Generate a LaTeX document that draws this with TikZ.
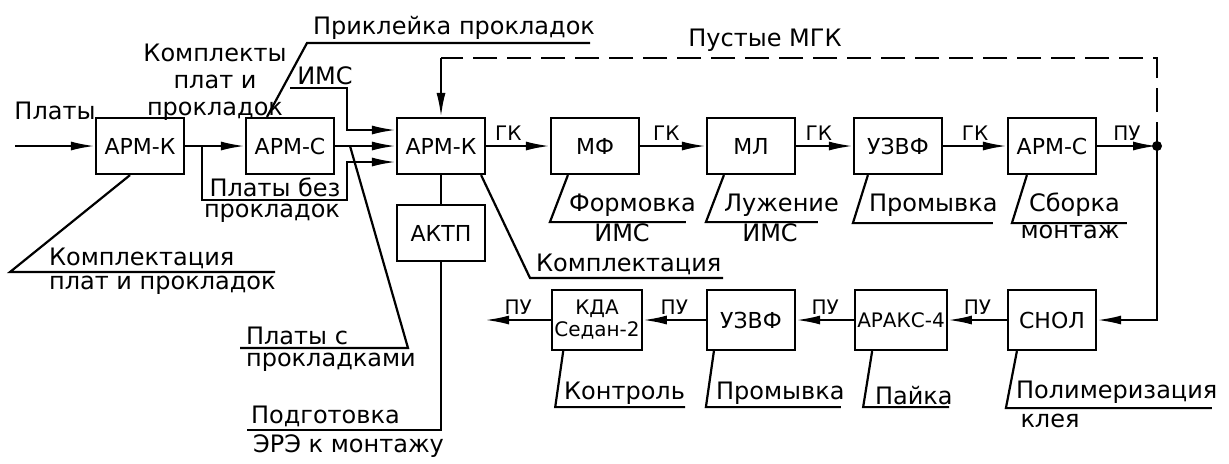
\documentclass[tikz,border=0pt]{standalone}
\usepackage{fontspec}
\setmainfont{DejaVu Sans}
\usepackage{tikz}
\usetikzlibrary{arrows.meta,calc,positioning}

\begin{document}
\begin{tikzpicture}[x=0.5pt,y=-0.5pt,line width=1.1pt,>={Latex[length=12pt,width=4.5pt]},
  blk/.style={draw,minimum width=44pt,minimum height=28pt,inner sep=1pt,align=center,font=\fontsize{11}{12}\selectfont},
  txt/.style={inner sep=1pt,font=\fontsize{12}{13.5}\selectfont},
  tag/.style={inner sep=2pt,font=\fontsize{10}{11}\selectfont}]
  \useasboundingbox (0,0) rectangle (1229,463);

  % upper row
  \node[blk] (armk1) at (140,146) {АРМ-К};
  \node[blk] (armc1) at (290,146) {АРМ-С};
  \node[blk] (armk2) at (441,146) {АРМ-К};
  \node[blk] (mf) at (595,146) {МФ};
  \node[blk] (ml) at (751,146) {МЛ};
  \node[blk] (uzvf1) at (898,146) {УЗВФ};
  \node[blk] (armc2) at (1052,146) {АРМ-С};
  \node[blk] (aktp) at (441,233) {АКТП};
  % lower row
  \node[blk,minimum height=30pt] (snol) at (1052,320) {СНОЛ};
  \node[blk,minimum height=30pt,font=\fontsize{10}{11}\selectfont] (araks) at (901,320) {АРАКС-4};
  \node[blk,minimum height=30pt] (uzvf2) at (751,320) {УЗВФ};
  \node[blk,minimum height=30pt,font=\fontsize{10}{11}\selectfont] (kda) at (597,320) {КДА\\Седан-2};

  \coordinate (inp) at (15,146);
  \coordinate (br) at (202,146);
  \coordinate (brd) at (202,200);
  \coordinate (brr) at (347,200);
  \coordinate (ims) at (290,88);
  \coordinate (imsr) at (347,88);
  \coordinate (pst) at (350,146);
  \coordinate (psb) at (408,348);
  \coordinate (psl) at (240,348);
  \coordinate (dl) at (441,58);
  \coordinate (dr) at (1157,58);
  \coordinate (pdot) at (1157,146);
  \coordinate (podl) at (247,430);
  \coordinate (out) at (485,320);

  % flow
  \draw[->] (inp) -- (armk1);
  \draw[->] (armk1) -- (armc1);
  \draw[->] (br) -- (brd) -- (brr) |- ($(armk2.west)+(0,16)$);
  \draw[->] (armc1) -- (armk2);
  \draw[->] (ims) -- (imsr) |- ($(armk2.west)+(0,-16)$);
  \draw (pst) -- (psb) -- (psl);
  \draw[dash pattern=on 12pt off 5pt] (pdot) -- (dr) -- (dl);
  \draw[->] (dl) -- (armk2);
  \draw[->] (armk2) -- node[tag,above,pos=0.35] {ГК} (mf);
  \draw[->] (mf) -- node[tag,above,pos=0.4] {ГК} (ml);
  \draw[->] (ml) -- node[tag,above,pos=0.4] {ГК} (uzvf1);
  \draw[->] (uzvf1) -- node[tag,above,pos=0.5] {ГК} (armc2);
  \draw[->] (armc2) -- node[tag,above,pos=0.5] {ПУ} (pdot);
  \fill (pdot) circle (2.5pt);
  \draw[->] (pdot) |- (snol.east);
  \draw[->] (snol) -- node[tag,above,pos=0.5] {ПУ} (araks);
  \draw[->] (araks) -- node[tag,above,pos=0.5] {ПУ} (uzvf2);
  \draw[->] (uzvf2) -- node[tag,above,pos=0.5] {ПУ} (kda);
  \draw[->] (kda) -- node[tag,above,pos=0.5] {ПУ} (out);
  \draw (armk2) -- (aktp);
  \draw (aktp) |- (podl);

  % leaders
  \draw ($(armk1.south)+(-10,0)$) -- (10,272) -- (275,272);
  \draw ($(armc1.north)+(-23,0)$) -- (307,43) -- (590,43);
  \draw ($(armk2.south east)+(-5,0)$) -- (530,278) -- (723,278);
  \draw ($(mf.south west)+(18,0)$) -- ++(-18,47) -- ++(136,0);
  \draw ($(ml.south west)+(18,0)$) -- ++(-18,47) -- ++(112,0);
  \draw ($(uzvf1.south west)+(15,0)$) -- ++(-15,48) -- ++(140,0);
  \draw ($(armc2.south west)+(20,0)$) -- ++(-15,48) -- ++(115,0);
  \draw ($(kda.south west)+(12,0)$) -- ++(-8,56) -- ++(130,0);
  \draw ($(uzvf2.south west)+(8,0)$) -- ++(-8,56) -- ++(135,0);
  \draw ($(araks.south west)+(18,0)$) -- ++(-9,56) -- ++(86,0);
  \draw ($(snol.south west)+(10,0)$) -- ++(-11,57) -- ++(206,0);

  % texts
  \node[txt] (platy) at (55,111) {Платы};
  \node[txt,align=center] (kompl) at (215,82) {Комплекты\\плат и\\прокладок};
  \node[txt,anchor=south west] (prikl) at (310,43) {Приклейка прокладок};
  \node[txt,anchor=south] (ims0) at (325,88) {ИМС};
  \node[txt] (pust) at (765,40) {Пустые МГК};
  \node[txt,anchor=south] (bez1) at (275,200) {Платы без};
  \node[txt,anchor=north] (bez2) at (272,201) {прокладок};
  \node[txt,anchor=south west] (kp1) at (46,272) {Комплектация};
  \node[txt,anchor=north west] (kp2) at (46,273) {плат и прокладок};
  \node[txt,anchor=south west] (kims) at (533,278) {Комплектация};
  \node[txt,anchor=south west] (form) at (566,220) {Формовка};
  \node[txt,anchor=north] (form2) at (622,221) {ИМС};
  \node[txt,anchor=south west] (luzh) at (721,220) {Лужение};
  \node[txt,anchor=north] (luzh2) at (770,221) {ИМС};
  \node[txt,anchor=south west] (prom1) at (866,220) {Промывка};
  \node[txt,anchor=south west] (sbor) at (1026,220) {Сборка};
  \node[txt,anchor=north] (sbor2) at (1070,222) {монтаж};
  \node[txt,anchor=south west] (spr1) at (243,348) {Платы с};
  \node[txt,anchor=north west] (spr2) at (243,350) {прокладками};
  \node[txt,anchor=south west] (podg1) at (248,430) {Подготовка};
  \node[txt,anchor=north west] (podg2) at (250,432) {ЭРЭ к монтажу};
  \node[txt,anchor=south west] (kontr) at (561,408) {Контроль};
  \node[txt,anchor=south west] (prom2) at (713,408) {Промывка};
  \node[txt,anchor=south west] (payka) at (872,408) {Пайка};
  \node[txt,anchor=south west] (polim) at (1013,407) {Полимеризация};
  \node[txt,anchor=north] (kleya) at (1050,411) {клея};
\end{tikzpicture}
\end{document}
